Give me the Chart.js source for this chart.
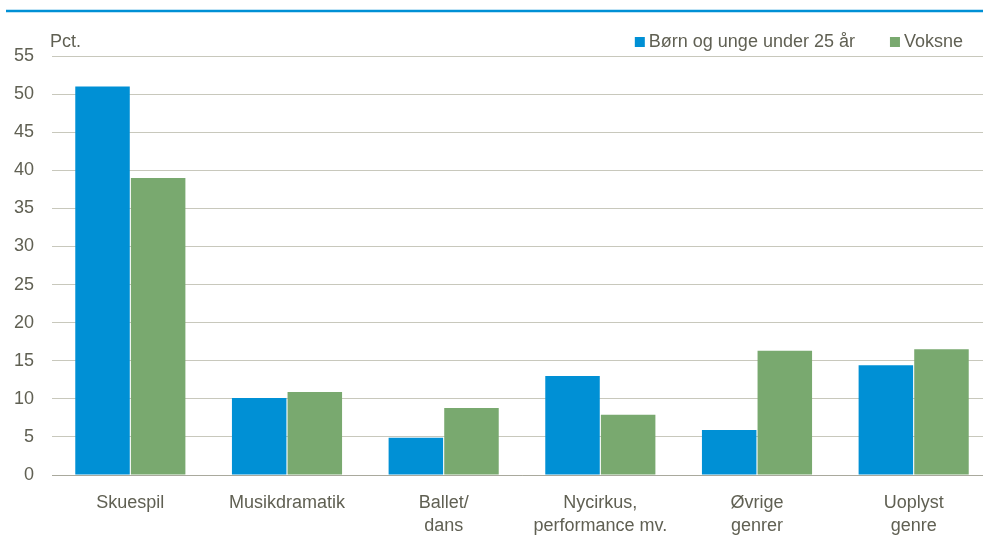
<!DOCTYPE html>
<html>
<head>
<meta charset="utf-8">
<script src="https://cdn.jsdelivr.net/npm/chart.js@4/dist/chart.umd.min.js"></script>
<style>
  html, body { margin: 0; padding: 0; background: #fff; overflow: hidden; }
  /* the plot runs a little past the right edge of the window, as in the cropped original */
  #wrap { width: 992px; height: 543px; position: relative; }
</style>
</head>
<body>
<div id="wrap"><canvas id="chart"></canvas></div>
<script>
const categories = [
  'Skuespil',
  'Musikdramatik',
  ['Ballet/', 'dans'],
  ['Nycirkus,', 'performance mv.'],
  ['Øvrige', 'genrer'],
  ['Uoplyst', 'genre'],
];
const youngLabel = 'Børn og unge under 25 år';
const adultLabel = 'Voksne';
const young = [51.0, 10.1, 4.9, 13.0, 5.9, 14.4];
const adults = [39.0, 10.9, 8.8, 7.9, 16.3, 16.5];
const yMax = 55;
const yStep = 5;
const unitLabel = 'Pct.';

const FONT = "'Liberation Sans', Arial, sans-serif";
const FONT_SIZE = 18;
const TEXT = '#606053';

// top rule, "Pct." unit label and the legend (drawn by hand to match spacing)
const decor = {
  id: 'decor',
  afterDraw(chart) {
    const { ctx, chartArea } = chart;
    ctx.save();
    ctx.strokeStyle = '#0090d5';
    ctx.lineWidth = 2.5;
    ctx.beginPath();
    ctx.moveTo(6, 11);
    ctx.lineTo(chart.width, 11);
    ctx.stroke();

    ctx.fillStyle = TEXT;
    ctx.font = FONT_SIZE + 'px ' + FONT;
    ctx.textBaseline = 'middle';
    ctx.textAlign = 'left';
    ctx.fillText(unitLabel, chartArea.left - 2, 42);

    // legend, laid out right to left from where "Voksne" ends
    const items = chart.data.datasets.map((ds) => ({ text: ds.label, color: ds.backgroundColor }));
    let x = 963;
    const y = 42;
    for (let i = items.length - 1; i >= 0; i--) {
      const w = ctx.measureText(items[i].text).width;
      const tx = x - w;
      ctx.fillStyle = TEXT;
      ctx.fillText(items[i].text, tx, y);
      ctx.fillStyle = items[i].color;
      ctx.fillRect(tx - 14, y - 5, 10, 10);
      x = tx - 14 - 35;
    }
    ctx.restore();
  },
};

new Chart(document.getElementById('chart'), {
  type: 'bar',
  data: {
    labels: categories,
    datasets: [
      { label: youngLabel, data: young, backgroundColor: '#0090d5' },
      { label: adultLabel, data: adults, backgroundColor: '#79a96f' },
    ],
  },
  options: {
    responsive: true,
    maintainAspectRatio: false,
    animation: false,
    layout: { padding: { left: 0, right: 0, top: 56, bottom: 0 } },
    datasets: { bar: { categoryPercentage: 0.71, barPercentage: 0.98 } },
    plugins: {
      tooltip: { enabled: false },
      legend: { display: false },
    },
    scales: {
      x: {
        grid: { display: false, drawTicks: false },
        border: { color: '#a9a99d', width: 1 },
        afterFit(scale) { scale.height = 68; },
        ticks: {
          color: TEXT,
          padding: 17,
          autoSkip: false,
          maxRotation: 0,
          font: { family: FONT, size: FONT_SIZE, lineHeight: 1.27 },
        },
      },
      y: {
        min: 0,
        max: yMax,
        afterFit(scale) { scale.width = 52; },
        ticks: {
          stepSize: yStep,
          color: TEXT,
          padding: 18,
          font: { family: FONT, size: FONT_SIZE },
        },
        grid: { color: '#c8c8bc', lineWidth: 1, drawTicks: false },
        border: { display: false },
      },
    },
  },
  plugins: [decor],
});
</script>
</body>
</html>
